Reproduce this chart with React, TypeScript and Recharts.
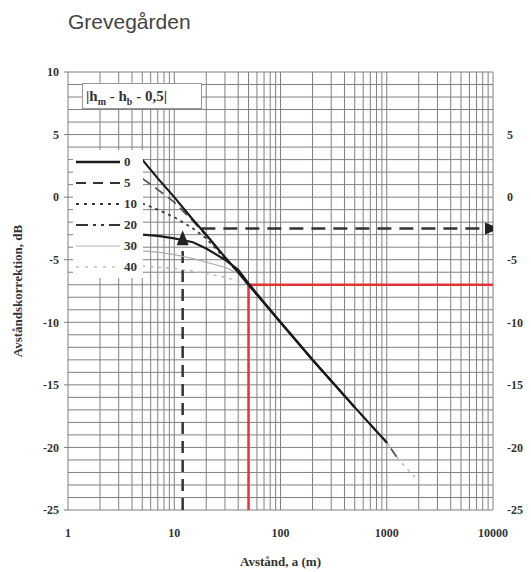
import React from "react";
import { LineChart, Line, XAxis, YAxis, ReferenceLine, Legend } from "recharts";

// avstånd (m) där kurvorna börjar och möts
const nearDist = [5, 7, 10, 15, 20, 30, 40, 50];
// gemensam svans efter 50 m
const tailDist = [100, 200, 500, 1000, 1300, 2000];
const tailDb = [-10, -13, -16.8, -19.6, -21, -22.7];

// |hm - hb - 0,5| = 0, 5, 10, 20, 30, 40
const db0 = [3, 1.5, 0, -1.8, -3, -4.8, -6, -7];
const db5 = [1.5, 0.6, -0.4, -1.9, -3.1, -4.8, -6, -7];
const db10 = [-0.5, -1, -1.6, -2.5, -3.3, -4.9, -6, -7];
const db20 = [-3, -3.1, -3.3, -3.6, -4.1, -5, -5.8, -6.9];
const db30 = [-4.3, -4.4, -4.6, -4.9, -5.2, -5.6, -6.1, -7];
const db40 = [-5.5, -5.6, -5.7, -5.9, -6.1, -6.4, -6.7, -7];

const xTicks = [1, 10, 100, 1000, 10000];
const yTicksLeft = [-25, -20, -15, -10, -5, 0, 5, 10];
const yTicksRight = [-25, -20, -15, -10, -5, 0, 5];

// rutnät
const decades = [1, 10, 100, 1000];
const steps = [1, 2, 3, 4, 5, 6, 7, 8, 9];
const gridX = [...decades.flatMap((d) => steps.map((s) => d * s)), 10000];
const gridY: number[] = [];
for (let v = -25; v <= 10; v++) gridY.push(v);

// avläsningsexempel
const exampleX = [50, 10000];
const exampleDb = -7;
const arrowX = 12;
const arrowTopDb = -3.2;
const arrowHDb = -2.5;
const arrowHStart = 18;

const pts = (xs: number[], ys: number[]) => xs.map((x, i) => ({ x, y: ys[i] }));
const curve = (ys: number[], tailCount: number) => [
  ...pts(nearDist, ys),
  ...pts(tailDist.slice(0, tailCount), tailDb.slice(0, tailCount)),
];

const series = [
  { name: "40", data: curve(db40, 6), stroke: "#bdbdbd", width: 1.6, dash: "3 5" },
  { name: "30", data: curve(db30, 3), stroke: "#aaaaaa", width: 1.2, dash: undefined },
  { name: "10", data: curve(db10, 3), stroke: "#3a3a3a", width: 1.8, dash: "3 4" },
  { name: "5", data: curve(db5, 5), stroke: "#555555", width: 1.8, dash: "10 6" },
  { name: "20", data: curve(db20, 3), stroke: "#1e1e1e", width: 2.2, dash: undefined },
  { name: "0", data: curve(db0, 4), stroke: "#1a1a1a", width: 2.2, dash: undefined },
];

const legendItems = [
  { label: "0", stroke: "#1a1a1a", width: 2.5, dash: undefined },
  { label: "5", stroke: "#333", width: 2, dash: "10 7" },
  { label: "10", stroke: "#333", width: 2, dash: "3 5" },
  { label: "20", stroke: "#333", width: 2, dash: "12 5 3 5 3 5" },
  { label: "30", stroke: "#b5b5b5", width: 1.2, dash: undefined },
  { label: "40", stroke: "#c4c4c4", width: 1.6, dash: "3 6" },
];

const serif = "'Liberation Serif', 'Times New Roman', serif";
const tickStyle = { fontSize: 12, fill: "#333", fontWeight: 700, fontFamily: serif };
const gridColor = "#808080";

const ArrowRight = (props: any) => {
  const { cx, cy, index } = props;
  if (index !== 1) return <g key={`ar-${index}`} />;
  return <path key={`ar-${index}`} d={`M${cx + 7},${cy} L${cx - 8},${cy - 6} L${cx - 8},${cy + 6} Z`} fill="#222" />;
};

const ArrowUp = (props: any) => {
  const { cx, cy, index } = props;
  if (index !== 1) return <g key={`au-${index}`} />;
  return <path key={`au-${index}`} d={`M${cx},${cy - 7} L${cx - 6},${cy + 8} L${cx + 6},${cy + 8} Z`} fill="#222" />;
};

const LegendBox = () => (
  <div style={{ background: "#fff", width: 70, padding: "1px 0", fontFamily: serif, fontWeight: 700, fontSize: 13, color: "#333" }}>
    {legendItems.map((it) => (
      <div key={it.label} style={{ display: "flex", alignItems: "center", height: 21 }}>
        <svg width={46} height={10} style={{ marginLeft: 3 }}>
          <line x1={0} y1={5} x2={44} y2={5} stroke={it.stroke} strokeWidth={it.width} strokeDasharray={it.dash} />
        </svg>
        <span style={{ marginLeft: 2 }}>{it.label}</span>
      </div>
    ))}
  </div>
);

export default function App() {
  return (
    <div style={{ position: "absolute", left: 0, top: 0, width: 531, height: 572, background: "#fff" }}>
      <div style={{ position: "absolute", left: 68, top: 10, fontFamily: "'Liberation Sans', Arial, sans-serif", fontSize: 21, color: "#444" }}>
        Grevegården
      </div>
      <LineChart width={531} height={572} margin={{ top: 72, right: 0, bottom: 0, left: 0 }}>
        <XAxis
          dataKey="x"
          type="number"
          scale="log"
          domain={[1, 10000]}
          ticks={xTicks}
          allowDataOverflow
          axisLine={false}
          tickLine={false}
          tickMargin={12}
          height={62}
          tick={tickStyle}
          label={{ value: "Avstånd, a (m)", position: "insideBottom", offset: 6, style: { ...tickStyle, fontSize: 13 } }}
        />
        <YAxis
          yAxisId="left"
          type="number"
          domain={[-25, 10]}
          ticks={yTicksLeft}
          allowDataOverflow
          width={68}
          axisLine={false}
          tickLine={{ stroke: "#777" }}
          tickSize={4}
          tickMargin={5}
          tick={tickStyle}
          label={{
            value: "Avståndskorrektion, dB",
            angle: -90,
            position: "insideLeft",
            offset: 17,
            style: { ...tickStyle, fontSize: 13, textAnchor: "middle" },
          }}
        />
        <YAxis
          yAxisId="right"
          orientation="right"
          type="number"
          domain={[-25, 10]}
          ticks={yTicksRight}
          allowDataOverflow
          width={38}
          axisLine={false}
          tickLine={false}
          tickMargin={8}
          tick={tickStyle}
        />
        {gridX.map((v) => (
          <ReferenceLine key={`gx-${v}`} yAxisId="left" x={v} stroke={gridColor} strokeWidth={1} />
        ))}
        {gridY.map((v) => (
          <ReferenceLine key={`gy-${v}`} yAxisId="left" y={v} stroke={gridColor} strokeWidth={1} />
        ))}
        <Legend
          layout="vertical"
          align="center"
          verticalAlign="middle"
          content={() => <LegendBox />}
          wrapperStyle={{ left: 73, top: 150, width: 70 }}
        />
        <Line
          yAxisId="left"
          data={[{ x: exampleX[0], y: -25 }, { x: exampleX[0], y: exampleDb }]}
          dataKey="y"
          stroke="#e0343a"
          strokeWidth={2.5}
          dot={false}
          isAnimationActive={false}
          legendType="none"
        />
        <Line
          yAxisId="left"
          data={pts(exampleX, [exampleDb, exampleDb])}
          dataKey="y"
          stroke="#e0343a"
          strokeWidth={2.5}
          dot={false}
          isAnimationActive={false}
          legendType="none"
        />
        <Line
          yAxisId="left"
          data={[{ x: arrowX, y: -25 }, { x: arrowX, y: arrowTopDb }]}
          dataKey="y"
          stroke="#333"
          strokeWidth={2.5}
          strokeDasharray="12 7"
          dot={ArrowUp}
          isAnimationActive={false}
          legendType="none"
        />
        <Line
          yAxisId="left"
          data={[{ x: arrowHStart, y: arrowHDb }, { x: 10000, y: arrowHDb }]}
          dataKey="y"
          stroke="#333"
          strokeWidth={2.5}
          strokeDasharray="14 8"
          dot={ArrowRight}
          isAnimationActive={false}
          legendType="none"
        />
        {series.map((s) => (
          <Line
            key={s.name}
            yAxisId="left"
            name={s.name}
            data={s.data}
            dataKey="y"
            stroke={s.stroke}
            strokeWidth={s.width}
            strokeDasharray={s.dash}
            dot={false}
            isAnimationActive={false}
          />
        ))}
      </LineChart>
      <div
        style={{
          position: "absolute",
          left: 82,
          top: 83,
          width: 120,
          height: 26,
          background: "#fff",
          border: "1px solid #999",
          fontFamily: serif,
          fontWeight: 700,
          fontSize: 15,
          color: "#333",
          lineHeight: "24px",
          paddingLeft: 3,
          boxSizing: "border-box",
        }}
      >
        |h<sub style={{ fontSize: 10 }}>m</sub> - h<sub style={{ fontSize: 10 }}>b</sub> - 0,5|
      </div>
    </div>
  );
}
